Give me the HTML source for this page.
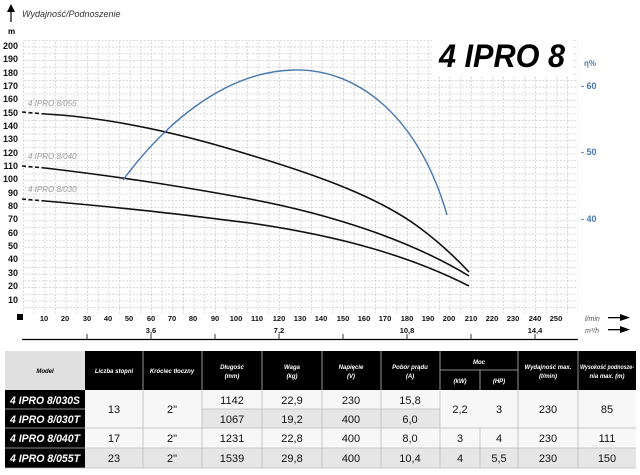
<!DOCTYPE html>
<html><head><meta charset="utf-8"><style>
html,body{margin:0;padding:0;background:#fff;width:640px;height:475px;overflow:hidden}
svg{display:block;font-family:"Liberation Sans",sans-serif}
</style></head><body>
<svg width="640" height="475" viewBox="0 0 640 475" xmlns="http://www.w3.org/2000/svg">
<defs>
<pattern id="gv" x="23" y="0" width="10.667" height="475" patternUnits="userSpaceOnUse">
<line x1="0.5" y1="0" x2="0.5" y2="475" stroke="#c8c8c8" stroke-width="0.7" stroke-dasharray="2,1.5"/>
</pattern>
<pattern id="gh" x="0" y="39.9" width="640" height="6.68" patternUnits="userSpaceOnUse">
<line x1="0" y1="0.5" x2="640" y2="0.5" stroke="#c8c8c8" stroke-width="0.7" stroke-dasharray="2,1.5"/>
</pattern>
</defs>
<rect x="23" y="40" width="555" height="273" fill="url(#gv)"/>
<rect x="23" y="40" width="555" height="273" fill="url(#gh)"/>
<rect x="432" y="33" width="140" height="42" fill="#fff"/>
<text x="439" y="67" font-size="32" font-weight="bold" font-style="italic" fill="#000" textLength="126" lengthAdjust="spacingAndGlyphs">4 IPRO 8</text>
<path d="M11 4 L7 12 L15 12 Z" fill="#000"/><line x1="11" y1="10" x2="11" y2="22" stroke="#000" stroke-width="1.2"/>
<text x="22" y="17" font-size="9" font-style="italic" fill="#333">Wydajność/Podnoszenie</text>
<text x="8" y="34" font-size="8" font-weight="bold">m</text>
<g font-size="9" font-weight="bold" text-anchor="end" fill="#111">
<text x="18" y="49">200</text><text x="18" y="62">190</text><text x="18" y="76">180</text><text x="18" y="89">170</text><text x="18" y="102">160</text><text x="18" y="116">150</text><text x="18" y="129">140</text><text x="18" y="142">130</text><text x="18" y="156">120</text><text x="18" y="169">110</text><text x="18" y="182">100</text><text x="18" y="196">90</text><text x="18" y="209">80</text><text x="18" y="222">70</text><text x="18" y="236">60</text><text x="18" y="249">50</text><text x="18" y="262">40</text><text x="18" y="276">30</text><text x="18" y="289">20</text><text x="18" y="303">10</text>
</g>
<rect x="17" y="314" width="6" height="6" fill="#000"/>
<g font-size="7.5" font-weight="bold" text-anchor="middle" fill="#111">
<text x="44" y="321">10</text><text x="65" y="321">20</text><text x="87" y="321">30</text><text x="108" y="321">40</text><text x="129" y="321">50</text><text x="151" y="321">60</text><text x="172" y="321">70</text><text x="193" y="321">80</text><text x="215" y="321">90</text><text x="236" y="321">100</text><text x="257" y="321">110</text><text x="279" y="321">120</text><text x="300" y="321">130</text><text x="321" y="321">140</text><text x="343" y="321">150</text><text x="364" y="321">160</text><text x="385" y="321">170</text><text x="407" y="321">180</text><text x="428" y="321">190</text><text x="449" y="321">200</text><text x="471" y="321">210</text><text x="492" y="321">220</text><text x="513" y="321">230</text><text x="535" y="321">240</text><text x="556" y="321">250</text>
<text x="151" y="333">3,6</text><text x="279" y="333">7,2</text><text x="407" y="333">10,8</text><text x="535" y="333">14,4</text>
</g>
<text x="585" y="321" font-size="7" font-style="italic" fill="#555">l/min</text>
<text x="585" y="333" font-size="7" font-style="italic" fill="#555">m³/h</text>
<g fill="#000"><rect x="608" y="317" width="16" height="1.3"/><path d="M620 314 L630 317.6 L620 321Z"/><rect x="608" y="329" width="16" height="1.3"/><path d="M620 326 L630 329.6 L620 333Z"/></g>
<line x1="22" y1="339.5" x2="578" y2="339.5" stroke="#000" stroke-width="1.2"/>
<g stroke="#000" stroke-width="0.8"><line x1="87" y1="334" x2="87" y2="339"/><line x1="151" y1="334" x2="151" y2="339"/><line x1="215" y1="334" x2="215" y2="339"/><line x1="279" y1="334" x2="279" y2="339"/><line x1="343" y1="334" x2="343" y2="339"/><line x1="407" y1="334" x2="407" y2="339"/><line x1="471" y1="334" x2="471" y2="339"/><line x1="535" y1="334" x2="535" y2="339"/></g>
<text x="584" y="66" font-size="8" font-weight="bold" fill="#4a78b0">η%</text>
<g font-size="9" font-weight="bold" fill="#4a78b0"><text x="581" y="89">- 60</text><text x="581" y="155">- 50</text><text x="581" y="222">- 40</text></g>
<g font-size="8" font-style="italic" fill="#999"><text x="28" y="106">4 IPRO 8/055</text><text x="28" y="159">4 IPRO 8/040</text><text x="28" y="192">4 IPRO 8/030</text></g>
<g fill="none" stroke="#111" stroke-width="1.6">
<path d="M22 112 L45 114" stroke-dasharray="4,2.5"/>
<path d="M45 114 C100 117,170 130,250 155 C320 176,380 198,420 228 C440 243,455 257,469 272"/>
<path d="M22 166 L45 168" stroke-dasharray="4,2.5"/>
<path d="M45 168 C130 178,190 188,250 199 C330 214,410 240,469 276"/>
<path d="M22 199 L45 201" stroke-dasharray="4,2.5"/>
<path d="M45 201 C150 210,200 217,250 223 C340 236,410 256,469 286"/>
</g>
<path d="M123 180 C160 130,220 72,293 70 C360 68,420 120,447 215" fill="none" stroke="#4a78b0" stroke-width="1.4"/>
<g>
<rect x="5" y="351" width="80" height="39" fill="#e0e0e0"/>
<rect x="85" y="351" width="551" height="39" fill="#000"/>
<rect x="5" y="390" width="80" height="78" fill="#000"/>
<rect x="85" y="390" width="551" height="78" fill="#f7f7f7"/>
<rect x="202" y="409" width="238" height="19" fill="#e6e6e6"/>
<rect x="85" y="448" width="551" height="20" fill="#e6e6e6"/>
<g stroke="#bbb" stroke-width="0.8">
<line x1="143" y1="351" x2="143" y2="468"/><line x1="202" y1="351" x2="202" y2="468"/><line x1="262" y1="351" x2="262" y2="468"/><line x1="322" y1="351" x2="322" y2="468"/><line x1="381" y1="351" x2="381" y2="468"/><line x1="440" y1="351" x2="440" y2="468"/><line x1="480" y1="370" x2="480" y2="390"/><line x1="480" y1="428" x2="480" y2="468"/><line x1="518" y1="351" x2="518" y2="468"/><line x1="578" y1="351" x2="578" y2="468"/>
<line x1="440" y1="370" x2="518" y2="370"/>
<line x1="5" y1="409" x2="85" y2="409"/><line x1="202" y1="409" x2="440" y2="409"/>
<line x1="5" y1="428" x2="636" y2="428"/><line x1="5" y1="448" x2="636" y2="448"/>
<line x1="5" y1="468" x2="636" y2="468"/>
</g>
<g font-size="6" font-weight="bold" font-style="italic" text-anchor="middle" fill="#fff">
<text x="45" y="373" fill="#000">Model</text>
<text x="114" y="373">Liczba stopni</text><text x="172" y="373">Króciec tłoczny</text>
<text x="232" y="369">Długość</text><text x="232" y="378">(mm)</text>
<text x="292" y="369">Waga</text><text x="292" y="378">(kg)</text>
<text x="351" y="369">Napięcie</text><text x="351" y="378">(V)</text>
<text x="410" y="369">Pobór prądu</text><text x="410" y="378">(A)</text>
<text x="479" y="364">Moc</text><text x="460" y="383">(kW)</text><text x="499" y="383">(HP)</text>
<text x="548" y="369">Wydajność max.</text><text x="548" y="378">(l/min)</text>
<text x="607" y="369" textLength="54" lengthAdjust="spacingAndGlyphs">Wysokość podnosze-</text><text x="607" y="378">nia max. (m)</text>
</g>
<g font-size="11" font-weight="bold" font-style="italic" fill="#fff" text-anchor="middle">
<text x="45" y="404" textLength="70" lengthAdjust="spacingAndGlyphs">4 IPRO 8/030S</text><text x="45" y="423" textLength="70" lengthAdjust="spacingAndGlyphs">4 IPRO 8/030T</text><text x="45" y="442" textLength="70" lengthAdjust="spacingAndGlyphs">4 IPRO 8/040T</text><text x="45" y="462" textLength="70" lengthAdjust="spacingAndGlyphs">4 IPRO 8/055T</text>
</g>
<g font-size="11" text-anchor="middle" fill="#111">
<text x="114" y="413">13</text><text x="172" y="413">2"</text><text x="232" y="404">1142</text><text x="292" y="404">22,9</text><text x="351" y="404">230</text><text x="410" y="404">15,8</text>
<text x="232" y="423">1067</text><text x="292" y="423">19,2</text><text x="351" y="423">400</text><text x="410" y="423">6,0</text>
<text x="460" y="413">2,2</text><text x="499" y="413">3</text><text x="548" y="413">230</text><text x="607" y="413">85</text>
<text x="114" y="442">17</text><text x="172" y="442">2"</text><text x="232" y="442">1231</text><text x="292" y="442">22,8</text><text x="351" y="442">400</text><text x="410" y="442">8,0</text><text x="460" y="442">3</text><text x="499" y="442">4</text><text x="548" y="442">230</text><text x="607" y="442">111</text>
<text x="114" y="462">23</text><text x="172" y="462">2"</text><text x="232" y="462">1539</text><text x="292" y="462">29,8</text><text x="351" y="462">400</text><text x="410" y="462">10,4</text><text x="460" y="462">4</text><text x="499" y="462">5,5</text><text x="548" y="462">230</text><text x="607" y="462">150</text>
</g>
</g>
</svg>
</body></html>
